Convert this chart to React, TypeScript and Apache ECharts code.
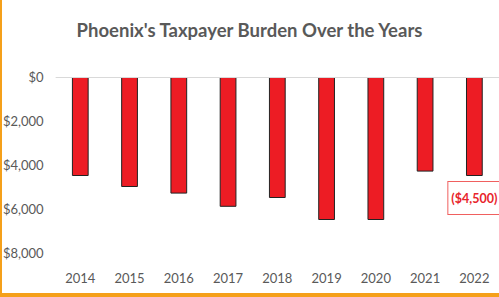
import React, { useEffect, useRef } from "react";
import * as echarts from "echarts";

const years = ["2014", "2015", "2016", "2017", "2018", "2019", "2020", "2021", "2022"];
const burden = [-4500, -5000, -5300, -5900, -5500, -6500, -6500, -4300, -4500];
const titleText = "Phoenix's Taxpayer Burden Over the Years";

const FONT = "Lato, 'DejaVu Sans Condensed', sans-serif";

const fmtAxis = (v: number) => "$" + Math.abs(v).toLocaleString("en-US");
const fmtLabel = (v: number) => "($" + Math.abs(v).toLocaleString("en-US") + ")";

export default function App() {
  const ref = useRef<HTMLDivElement>(null);
  useEffect(() => {
    document.body.style.margin = "0";
    const chart = echarts.init(ref.current!, null, { renderer: "svg" });
    chart.setOption({
      animation: false,
      title: {
        text: titleText,
        left: "center",
        top: 15,
        textStyle: { fontFamily: FONT, fontSize: 18.5, fontWeight: "bold", color: "#595959" },
      },
      grid: { left: 55, right: 0, top: 77, bottom: 40 },
      xAxis: {
        type: "category",
        data: years,
        position: "bottom",
        axisLine: { show: false },
        axisTick: { show: false },
        axisLabel: { fontFamily: FONT, fontSize: 13, color: "#595959", margin: 18 },
      },
      yAxis: {
        type: "value",
        min: -8000,
        max: 0,
        interval: 2000,
        axisLabel: { formatter: fmtAxis, fontFamily: FONT, fontSize: 13, color: "#595959", margin: 12 },
        splitLine: { show: false },
        axisLine: { show: false },
        axisTick: { show: false },
      },
      series: [
        {
          type: "bar",
          data: burden.map((v, i) =>
            i === burden.length - 1
              ? {
                  value: v,
                  label: {
                    show: true,
                    position: "bottom",
                    distance: 6,
                    formatter: (p: any) => fmtLabel(p.value),
                    fontFamily: FONT,
                    fontSize: 12.5,
                    fontWeight: "bold",
                    color: "#E8242B",
                    backgroundColor: "#fff",
                    borderColor: "#F0605F",
                    borderWidth: 1,
                    padding: [10, 3, 9, 3],
                  },
                }
              : v
          ),
          barWidth: "34%",
          itemStyle: { color: "#ED1C24", borderColor: "#222", borderWidth: 1 },
          markLine: {
            silent: true,
            symbol: "none",
            label: { show: false },
            lineStyle: { color: "#D9D9D9", type: "solid", width: 1 },
            data: [{ yAxis: 0 }],
          },
          z: 3,
        },
      ],
    });
    return () => chart.dispose();
  }, []);
  return (
    <div
      style={{
        position: "absolute",
        left: 0,
        top: 0,
        width: 499,
        height: 297,
        boxSizing: "border-box",
        borderLeft: "2px solid #F5A01A",
        borderBottom: "4px solid #F5A01A",
        background: "#fff",
      }}
    >
      <div ref={ref} style={{ width: 499, height: 293, marginLeft: -2 }} />
    </div>
  );
}
